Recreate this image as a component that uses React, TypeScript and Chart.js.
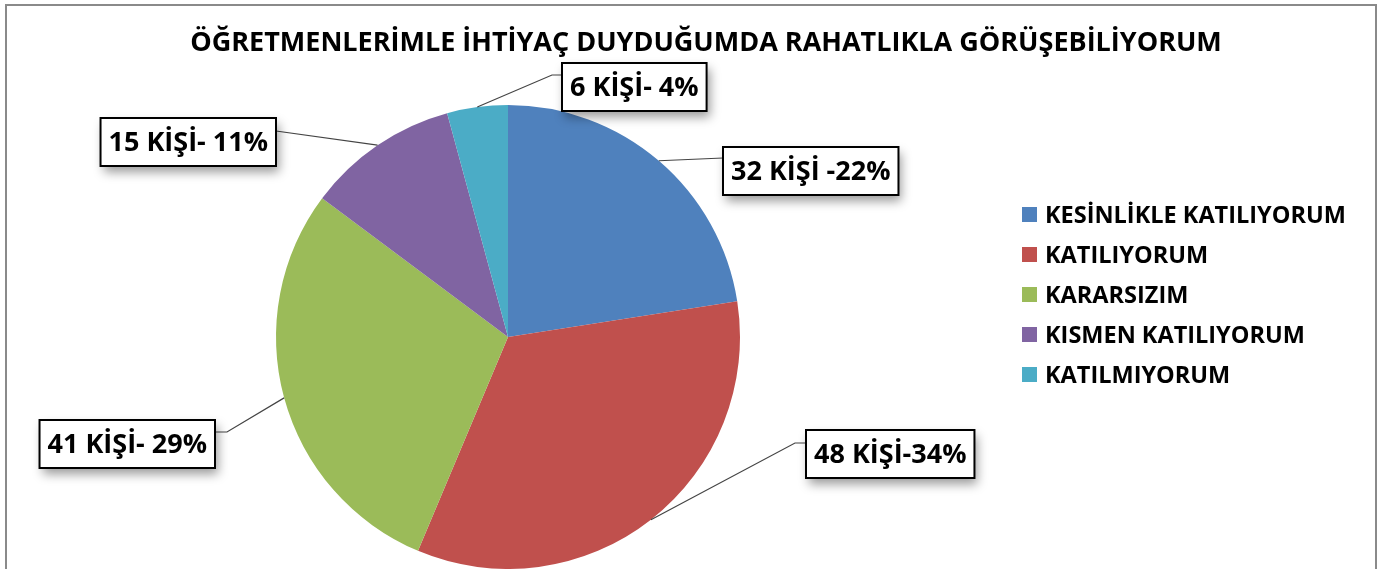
import React, { useEffect, useRef } from "react";
import { Chart, registerables } from "chart.js";

Chart.register(...registerables);

const TITLE = "ÖĞRETMENLERİMLE İHTİYAÇ DUYDUĞUMDA RAHATLIKLA GÖRÜŞEBİLİYORUM";
const categories = [
  "KESİNLİKLE KATILIYORUM",
  "KATILIYORUM",
  "KARARSIZIM",
  "KISMEN KATILIYORUM",
  "KATILMIYORUM",
];
const counts = [32, 48, 41, 15, 6];
const dataLabels = ["32 KİŞİ -22%", "48 KİŞİ-34%", "41 KİŞİ- 29%", "15 KİŞİ- 11%", "6 KİŞİ- 4%"];
const colors = ["#4F81BD", "#C0504D", "#9BBB59", "#8064A2", "#4BACC6"];

// label box placement relative to the pie centre (px)
const labelPlacement = [
  { side: "left", x: 215, top: -190, attach: 11, elbow: 0 },
  { side: "left", x: 298, top: 93, attach: 13, elbow: 11 },
  { side: "right", x: -293, top: 83, attach: 12, elbow: 12 },
  { side: "right", x: -232, top: -219, attach: 13, elbow: 0 },
  { side: "left", x: 54, top: -274, attach: 12, elbow: 10 },
];

const FONT = "'Open Sans', Lato, sans-serif";

const labelPlugin = {
  id: "boxLabels",
  afterDatasetsDraw(chart: any) {
    const ctx = chart.ctx;
    const meta = chart.getDatasetMeta(0);
    ctx.save();
    ctx.font = `bold 27px ${FONT}`;
    meta.data.forEach((arc: any, i: number) => {
      const p = labelPlacement[i];
      const cx = arc.x, cy = arc.y;
      const mid = (arc.startAngle + arc.endAngle) / 2;
      const sx = cx + Math.cos(mid) * arc.outerRadius;
      const sy = cy + Math.sin(mid) * arc.outerRadius;
      const text = dataLabels[i];
      const tw = ctx.measureText(text).width;
      const w = tw + 16;
      const h = 48;
      const left = p.side === "left" ? cx + p.x : cx + p.x - w;
      const top = cy + p.top;
      const ax = p.side === "left" ? left : left + w;
      const ay = top + p.attach;
      // leader line
      ctx.strokeStyle = "#444";
      ctx.lineWidth = 1.2;
      ctx.beginPath();
      ctx.moveTo(sx, sy);
      const ex = p.side === "left" ? ax - p.elbow : ax + p.elbow;
      ctx.lineTo(ex, ay);
      ctx.lineTo(ax, ay);
      ctx.stroke();
      // box with shadow
      ctx.save();
      ctx.shadowColor = "rgba(0,0,0,0.4)";
      ctx.shadowBlur = 10;
      ctx.shadowOffsetX = 3;
      ctx.shadowOffsetY = 6;
      ctx.fillStyle = "#fff";
      ctx.fillRect(left, top, w, h);
      ctx.restore();
      ctx.strokeStyle = "#000";
      ctx.lineWidth = 2;
      ctx.strokeRect(left, top, w, h);
      ctx.fillStyle = "#000";
      ctx.textAlign = "center";
      ctx.textBaseline = "middle";
      ctx.fillText(text, left + w / 2, top + h / 2 + 1);
    });
    ctx.restore();
  },
  afterDraw(chart: any) {
    const ctx = chart.ctx;
    const ds = chart.data.datasets[0];
    ctx.save();
    // title
    ctx.font = `bold 27px ${FONT}`;
    ctx.fillStyle = "#000";
    ctx.textAlign = "center";
    ctx.textBaseline = "middle";
    ctx.fillText(TITLE, 699, 37);
    // legend
    ctx.font = `bold 23.5px ${FONT}`;
    ctx.textBaseline = "middle";
    ctx.textAlign = "left";
    (chart.data.labels as string[]).forEach((lab, i) => {
      const y = 209 + i * 40;
      ctx.fillStyle = ds.backgroundColor[i];
      ctx.fillRect(1015, y - 8, 15, 15);
      ctx.fillStyle = "#000";
      ctx.fillText(lab, 1038, y + 1);
    });
    ctx.restore();
  },
};

export default function App() {
  const ref = useRef<HTMLCanvasElement>(null);
  useEffect(() => {
    document.body.style.margin = "0";
    document.body.style.overflow = "hidden";
    const chart = new Chart(ref.current!, {
      type: "pie",
      data: {
        labels: categories,
        datasets: [
          {
            data: counts,
            backgroundColor: colors,
            borderWidth: 0,
          },
        ],
      },
      options: {
        animation: false,
        responsive: false,
        maintainAspectRatio: false,
        layout: { padding: { left: 0, right: 366, top: 99, bottom: 0 } },
        plugins: {
          legend: { display: false },
          tooltip: { enabled: false },
          title: { display: false },
        },
      },
      plugins: [labelPlugin],
    });
    return () => chart.destroy();
  }, []);
  return (
    <div
      style={{
        position: "fixed",
        left: 5,
        top: 4,
        width: 1372,
        height: 565,
        boxSizing: "border-box",
        border: "2px solid #8a8a8a",
        borderBottom: "none",
        background: "#fff",
      }}
    >
      <canvas ref={ref} width={1368} height={563} style={{ display: "block" }} />
    </div>
  );
}
